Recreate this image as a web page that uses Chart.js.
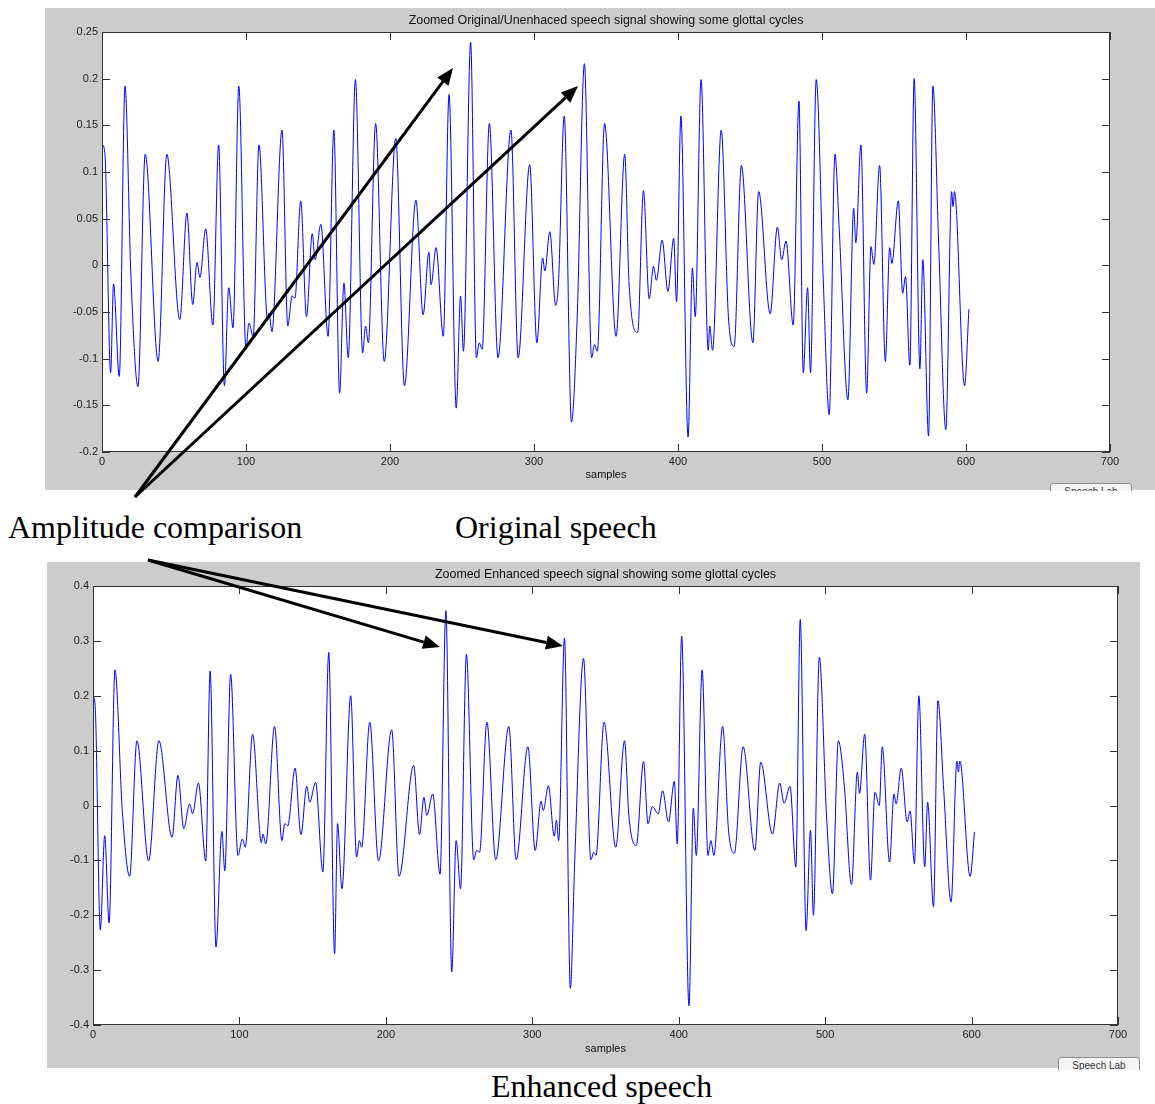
<!DOCTYPE html>
<html>
<head>
<meta charset="utf-8">
<title>Glottal cycles</title>
<script src="https://cdn.jsdelivr.net/npm/chart.js@4.4.1/dist/chart.umd.min.js"></script>
<style>
  body { margin: 0; background: #fff; width: 1155px; height: 1104px; position: relative; overflow: hidden;
         font-family: 'Liberation Sans', Arial, sans-serif; }
  canvas.panel { position: absolute; }
  .caption { position: absolute; font-family: 'Liberation Serif', 'Times New Roman', serif; font-size: 32px;
             line-height: 32px; color: #000; white-space: nowrap; }
  .btnclip { position: absolute; overflow: hidden; }
  .btn { position: absolute; left: 0; top: 0; width: 82px; height: 20px; box-sizing: border-box;
         border: 1px solid #8c8c8c; border-radius: 3px; background: #f6f6f6; font-size: 10px; color: #333;
         text-align: center; line-height: 15px; }
  #arrows { position: absolute; left: 0; top: 0; pointer-events: none; z-index: 5; }
</style>
</head>
<body>

<canvas id="origChart" class="panel" width="1110" height="482" style="left:45px;top:8px"></canvas>
<canvas id="enhChart" class="panel" width="1093" height="506" style="left:47px;top:562px"></canvas>

<div class="btnclip" style="left:1050px;top:483px;width:84px;height:8px"><div class="btn">Speech Lab</div></div>
<div class="btnclip" style="left:1058px;top:1057px;width:84px;height:13px"><div class="btn">Speech Lab</div></div>

<div class="caption" style="left:8px;top:511px">Amplitude comparison</div>
<div class="caption" style="left:455px;top:511px">Original speech</div>
<div class="caption" style="left:491px;top:1070px">Enhanced speech</div>

<canvas id="arrows" width="1155" height="1104"></canvas>

<script>
// original (unenhanced) signal: sample index / amplitude at each turning point
const origSamples = [0, 2, 6, 8, 12, 16, 20, 25, 30, 39, 45, 54, 59, 63, 66, 68, 72, 77, 81, 85,
  88, 91, 95, 100, 102, 105, 109, 115, 116, 118, 125, 129, 132, 134, 138, 142, 146, 148, 152, 157,
  161, 165, 168, 171, 176, 181, 183, 185, 190, 196, 204, 210, 218, 223, 227, 228.5, 232, 237, 241, 246,
  249, 251, 256, 260, 262, 264, 269, 275, 284, 289, 297, 302, 306, 307.5, 311, 315, 317, 321, 326, 330,
  335, 340, 342, 344, 349, 357, 363, 366, 372, 376, 380, 383, 385, 389, 393, 397, 399, 402, 407, 410,
  412, 416, 421, 422, 424, 430, 435, 439, 444, 452, 456, 464, 469, 472, 475, 480, 484, 487, 490, 492,
  496, 501, 505, 509, 512, 518, 522, 523.5, 527, 531, 534, 536, 540, 544, 547, 548.5, 553, 556, 558, 561,
  564, 568, 570, 574, 577, 581, 586, 590, 591, 592, 599, 602];
const origValues = [0.13, 0.12, -0.115, -0.02, -0.119, 0.192, -0.008, -0.13, 0.119, -0.103, 0.119, -0.058, 0.056, -0.042, 0.003, -0.013, 0.039, -0.064, 0.129, -0.129,
  -0.024, -0.067, 0.192, -0.09, -0.062, -0.076, 0.129, -0.058, -0.051, -0.071, 0.145, -0.065, -0.033, -0.035, 0.069, -0.055, 0.034, 0.006, 0.044, -0.076,
  0.145, -0.137, -0.019, -0.099, 0.199, -0.094, -0.065, -0.083, 0.152, -0.103, 0.136, -0.129, 0.07, -0.053, 0.014, -0.021, 0.019, -0.076, 0.183, -0.153,
  -0.033, -0.092, 0.239, -0.099, -0.083, -0.09, 0.152, -0.099, 0.145, -0.099, 0.108, -0.083, 0.008, -0.006, 0.036, -0.043, -0.018, 0.16, -0.168, -0.055,
  0.216, -0.099, -0.085, -0.092, 0.152, -0.076, 0.119, -0.019, -0.072, 0.08, -0.036, -0.001, -0.016, 0.027, -0.028, 0.029, -0.039, 0.16, -0.184, -0.003,
  -0.055, 0.199, -0.091, -0.065, -0.091, 0.145, -0.055, -0.087, 0.107, -0.083, 0.079, -0.052, 0.041, 0.006, 0.026, -0.064, 0.176, -0.115, -0.024, -0.115,
  0.199, -0.021, -0.16, 0.119, 0.038, -0.144, 0.061, 0.024, 0.129, -0.137, 0.02, 0.001, 0.107, -0.103, 0.019, 0.002, 0.069, -0.03, -0.012, -0.107,
  0.2, -0.111, 0.006, -0.183, 0.192, 0.024, -0.176, 0.079, 0.063, 0.079, -0.129, -0.047];

// enhanced signal
const enhSamples = [0, 1.5, 5, 8, 11, 15, 20, 25, 30, 38, 45, 54, 58, 62, 66, 68, 72, 77, 80, 84,
  88, 90, 94, 99, 102, 104, 109, 115, 116, 118, 124, 129, 131, 133, 138, 142, 146, 148, 152, 157,
  161, 165, 167, 170, 176, 180, 182, 183.5, 189, 195, 204, 209, 219, 223, 226, 228, 232, 237, 241, 245,
  248, 251, 255, 260, 262, 264, 269, 275, 284, 289, 297, 302, 306, 307.5, 311, 315, 316.5, 318, 322, 326,
  329, 335, 340, 342, 343.5, 349, 357, 363, 366, 371, 376, 379, 382, 386, 389, 393, 397, 399, 402, 407,
  410, 412, 416, 420, 422, 424, 430, 434, 438, 444, 452, 456, 464, 469, 472, 476, 480, 483, 487, 490,
  492, 496, 501, 505, 509, 513, 518, 522, 523.5, 527, 531, 534, 537, 539, 544, 547, 548.5, 552, 556, 558,
  561, 564, 568, 570, 574, 577, 581, 586, 590, 591, 592, 599, 602];
const enhValues = [0.2, 0.18, -0.227, -0.055, -0.214, 0.247, -0.009, -0.129, 0.118, -0.101, 0.118, -0.058, 0.055, -0.042, 0.003, -0.015, 0.041, -0.101, 0.245, -0.258,
  -0.047, -0.119, 0.239, -0.091, -0.061, -0.076, 0.13, -0.068, -0.052, -0.07, 0.144, -0.064, -0.033, -0.037, 0.068, -0.053, 0.035, 0.006, 0.042, -0.121,
  0.279, -0.27, -0.033, -0.152, 0.2, -0.094, -0.064, -0.076, 0.152, -0.101, 0.138, -0.129, 0.073, -0.053, 0.015, -0.018, 0.021, -0.125, 0.355, -0.303,
  -0.064, -0.152, 0.276, -0.099, -0.082, -0.085, 0.152, -0.099, 0.144, -0.099, 0.107, -0.082, 0.008, -0.009, 0.036, -0.056, -0.027, -0.064, 0.305, -0.333,
  -0.1, 0.268, -0.099, -0.085, -0.091, 0.152, -0.076, 0.118, -0.02, -0.073, 0.08, -0.033, -0.002, -0.015, 0.027, -0.03, 0.044, -0.07, 0.309, -0.365,
  -0.005, -0.091, 0.247, -0.091, -0.064, -0.091, 0.144, -0.045, -0.087, 0.107, -0.082, 0.079, -0.052, 0.041, 0.004, 0.035, -0.112, 0.339, -0.228, -0.045,
  -0.2, 0.27, -0.021, -0.161, 0.118, 0.039, -0.144, 0.061, 0.022, 0.13, -0.136, 0.024, 0, 0.107, -0.103, 0.021, 0.003, 0.068, -0.03, -0.01,
  -0.106, 0.2, -0.112, 0.006, -0.184, 0.191, 0.027, -0.176, 0.081, 0.061, 0.081, -0.129, -0.048];

const xTicks = [0, 100, 200, 300, 400, 500, 600, 700];
const origYTicks = [-0.2, -0.15, -0.1, -0.05, 0, 0.05, 0.1, 0.15, 0.2, 0.25];
const origYLabels = ['-0.2', '-0.15', '-0.1', '-0.05', '0', '0.05', '0.1', '0.15', '0.2', '0.25'];
const enhYTicks = [-0.4, -0.3, -0.2, -0.1, 0, 0.1, 0.2, 0.3, 0.4];
const enhYLabels = ['-0.4', '-0.3', '-0.2', '-0.1', '0', '0.1', '0.2', '0.3', '0.4'];

const FONT = "'Liberation Sans', Arial, sans-serif";

// gray figure, white axes, boxed frame with inward ticks (MATLAB look)
const matlabAxes = {
  id: 'matlabAxes',
  beforeDraw(chart) {
    const ctx = chart.ctx, a = chart.chartArea;
    ctx.save();
    ctx.fillStyle = '#cccccc';
    ctx.fillRect(0, 0, chart.width, chart.height);
    ctx.fillStyle = '#ffffff';
    ctx.fillRect(a.left, a.top, a.right - a.left, a.bottom - a.top);
    ctx.restore();
  },
  afterDraw(chart, args, opts) {
    const ctx = chart.ctx, a = chart.chartArea;
    const xs = chart.scales.x, ys = chart.scales.y;
    ctx.save();
    ctx.strokeStyle = '#333';
    ctx.lineWidth = 1;
    ctx.strokeRect(a.left + 0.5, a.top + 0.5, a.right - a.left - 1, a.bottom - a.top - 1);
    ctx.beginPath();
    xTicks.forEach(v => {
      const px = Math.round(xs.getPixelForValue(v)) + 0.5;
      ctx.moveTo(px, a.top); ctx.lineTo(px, a.top + 8);
      ctx.moveTo(px, a.bottom); ctx.lineTo(px, a.bottom - 8);
    });
    opts.yTicks.forEach(v => {
      const py = Math.round(ys.getPixelForValue(v)) + 0.5;
      ctx.moveTo(a.left, py); ctx.lineTo(a.left + 8, py);
      ctx.moveTo(a.right, py); ctx.lineTo(a.right - 8, py);
    });
    ctx.stroke();

    ctx.fillStyle = '#111';
    ctx.textAlign = 'center';
    ctx.textBaseline = 'middle';
    const cx = (a.left + a.right) / 2;
    ctx.font = '12.4px ' + FONT;
    ctx.fillText(opts.title, cx, a.top - 11);
    ctx.font = '11px ' + FONT;
    ctx.fillText('samples', cx, a.bottom + opts.labelGap);
    ctx.restore();
  }
};

function makeSignalChart(id, xs, ys, yTicks, yLabels, yMin, yMax, layout) {
  const ctx = document.getElementById(id).getContext('2d');
  return new Chart(ctx, {
    type: 'line',
    data: {
      datasets: [{
        data: xs.map((x, i) => ({ x: x, y: ys[i] })),
        borderColor: '#0000ff',
        borderWidth: 1,
        pointRadius: 0,
        fill: false,
        cubicInterpolationMode: 'monotone'
      }]
    },
    options: {
      responsive: false,
      animation: false,
      devicePixelRatio: 1,
      layout: { padding: { top: layout.top, right: layout.right, left: 0, bottom: 0 } },
      plugins: {
        legend: { display: false },
        tooltip: { enabled: false },
        matlabAxes: { title: layout.title, yTicks: yTicks, labelGap: layout.labelGap }
      },
      scales: {
        x: {
          type: 'linear', min: 0, max: 700,
          grid: { display: false, drawTicks: false },
          border: { display: false },
          afterBuildTicks: s => { s.ticks = xTicks.map(v => ({ value: v })); },
          afterFit: s => { s.height = layout.xHeight; },
          ticks: { autoSkip: false, maxRotation: 0, padding: 3, color: '#222', font: { family: FONT, size: 11 },
                   callback: v => String(v) }
        },
        y: {
          type: 'linear', min: yMin, max: yMax,
          grid: { display: false, drawTicks: false },
          border: { display: false },
          afterBuildTicks: s => { s.ticks = yTicks.map(v => ({ value: v })); },
          afterFit: s => { s.width = layout.yWidth; },
          ticks: { autoSkip: false, padding: 4, color: '#222', font: { family: FONT, size: 11 },
                   callback: (v, i) => yLabels[i] }
        }
      }
    },
    plugins: [matlabAxes]
  });
}

makeSignalChart('origChart', origSamples, origValues, origYTicks, origYLabels, -0.2, 0.25,
  { top: 24, right: 45, xHeight: 38, yWidth: 57, labelGap: 23,
    title: 'Zoomed Original/Unenhaced speech signal showing some glottal cycles' });

makeSignalChart('enhChart', enhSamples, enhValues, enhYTicks, enhYLabels, -0.4, 0.4,
  { top: 24, right: 22, xHeight: 43, yWidth: 46, labelGap: 24,
    title: 'Zoomed Enhanced speech signal showing some glottal cycles' });

// annotation arrows from the "Amplitude comparison" caption
const arrowLines = [
  [135, 497, 453, 68],
  [135, 497, 578, 86],
  [148, 560, 440, 647],
  [148, 560, 563, 646]
];

(function drawArrows() {
  const ctx = document.getElementById('arrows').getContext('2d');
  ctx.strokeStyle = '#000';
  ctx.fillStyle = '#000';
  ctx.lineWidth = 3;
  arrowLines.forEach(([x0, y0, x1, y1]) => {
    const ang = Math.atan2(y1 - y0, x1 - x0);
    const len = 17, half = 7;
    const bx = x1 - len * Math.cos(ang), by = y1 - len * Math.sin(ang);
    ctx.beginPath();
    ctx.moveTo(x0, y0);
    ctx.lineTo(bx, by);
    ctx.stroke();
    ctx.beginPath();
    ctx.moveTo(x1, y1);
    ctx.lineTo(bx + half * Math.sin(ang), by - half * Math.cos(ang));
    ctx.lineTo(bx - half * Math.sin(ang), by + half * Math.cos(ang));
    ctx.closePath();
    ctx.fill();
  });
})();
</script>
</body>
</html>
